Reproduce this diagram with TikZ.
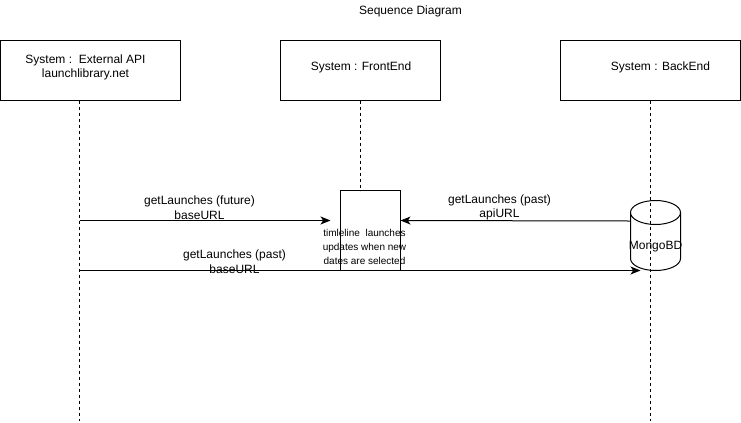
\documentclass[tikz,border=0pt]{standalone}
\usepackage{fontspec}
\setmainfont{Liberation Sans}
\usetikzlibrary{arrows.meta}

\tikzset{
  sysbox/.style={draw, inner sep=0pt, minimum width=135pt, minimum height=45pt},
  lifeline/.style={dash pattern={on 2.25pt off 2.25pt}},
  msg/.style={-{Stealth[length=7.5pt,width=6pt,inset=2pt]}},
  lbl/.style={inner sep=0.75pt, align=center, font=\fontsize{9}{11}\selectfont},
  smalllbl/.style={inner sep=0.75pt, align=center, font=\fontsize{7.5}{10.5}\selectfont}
}

\begin{document}
\begin{tikzpicture}[x=0.75pt,y=0.75pt,yscale=-1,xscale=1,line width=0.75pt]
\useasboundingbox (0,0) rectangle (741,422);

% Title
\node (title) [lbl] at (410.5,11.5) {Sequence Diagram};

% Systems
\node (api) [sysbox] at (90.5,70.5) {};
\node (front) [sysbox, minimum width=120pt] at (360.5,70.5) {};
\node (back) [sysbox] at (650.5,70.5) {};
\node (apitext) [lbl] at (85.5,67.5) {System :\ \ External API\\launchlibrary.net};
\node (fronttext) [lbl] at (361,67) {System : FrontEnd};
\node (backtext) [lbl] at (660.5,67) {System : BackEnd};

% Activation
\node (active) [draw, inner sep=0pt, minimum width=45pt, minimum height=60pt] at (370.5,230.5) {};

% Lifelines
\coordinate (apitop) at (79.5,100.5);
\coordinate (apiend) at (79.5,421);
\coordinate (backtop) at (650.5,100.5);
\coordinate (backend) at (650.5,421);
\coordinate (frontlife) at (360.5,100.5);
\coordinate (activetop) at (360.5,190.5);
\draw [lifeline] (apitop) -- (apiend);
\draw [lifeline] (frontlife) -- (activetop);
\draw [lifeline] (backtop) -- (backend);

% Database
\draw (630.5,212.5) -- (630.5,258.5) arc [start angle=180, end angle=0, x radius=25, y radius=12]
  -- (680.5,212.5) arc [start angle=0, end angle=-180, x radius=25, y radius=12]
  arc [start angle=180, end angle=0, x radius=25, y radius=12];
\node (db) [lbl] at (655.5,246.5) {MongoBD};

% Messages
\coordinate (apifuture) at (79.5,220.5);
\coordinate (activein) at (330.5,220.5);
\coordinate (dbout) at (630.5,221);
\coordinate (activeback) at (400.5,220.5);
\coordinate (apipast) at (79.5,270.5);
\coordinate (dbin) at (640.5,270.5);
\draw [msg] (apifuture) -- (activein);
\draw [msg] (dbout) -- (activeback);
\draw [msg] (apipast) -- (dbin);

% Labels
\node (future) [lbl] at (199.5,207.5) {getLaunches (future)\\baseURL};
\node (pastapi) [lbl] at (499.5,207.5) {getLaunches (past)\\apiURL};
\node (pastbase) [lbl] at (234.5,261.5) {getLaunches (past)\\baseURL};
\node (timeline) [smalllbl] at (364.5,246.5) {timleline\ \ launches\\updates when new\\dates are selected};

\end{tikzpicture}
\end{document}
